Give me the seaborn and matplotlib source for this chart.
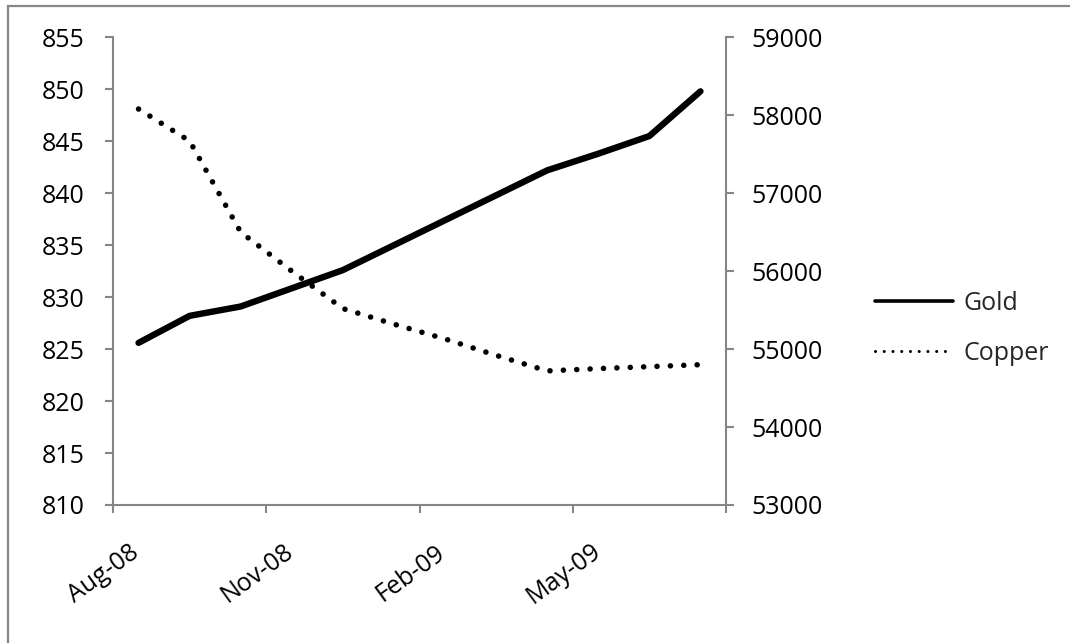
import numpy as np
import pandas as pd
import matplotlib
matplotlib.use("Agg")
import matplotlib.pyplot as plt
from matplotlib.lines import Line2D
from matplotlib.patches import Rectangle
from matplotlib.transforms import ScaledTranslation
import seaborn as sns

# Monthly averages
months = ["Aug-08", "Sep-08", "Oct-08", "Nov-08", "Dec-08", "Jan-09",
          "Feb-09", "Mar-09", "Apr-09", "May-09", "Jun-09", "Jul-09"]
gold = [825.6, 828.2, 829.1, 830.85, 832.6, 835.0,
        837.4, 839.8, 842.2, 843.8, 845.5, 849.8]
copper = [58080, 57670, 56500, 56000, 55520, 55320,
          55130, 54920, 54720, 54750, 54775, 54800]

x_tick_labels = ["Aug-08", "Nov-08", "Feb-09", "May-09", ""]
gold_ticks = [810, 815, 820, 825, 830, 835, 840, 845, 850, 855]
copper_ticks = [53000, 54000, 55000, 56000, 57000, 58000, 59000]

sns.set_theme(style="white")
plt.rcParams["font.family"] = ["Open Sans", "DejaVu Sans"]

AXIS_GREY = "#868686"
FS = 18

df = pd.DataFrame({"month": months, "Gold": gold, "Copper": copper})
# each month occupies one slot; points sit in the middle of their slot
df["slot"] = np.arange(len(df)) + 0.5

W, H = 1070, 643
fig = plt.figure(figsize=(W / 100, H / 100), dpi=100)
ax = fig.add_axes([113 / W, 1 - 505 / H, 613 / W, (505 - 37.3) / H])
ax2 = ax.twinx()

sns.lineplot(data=df, x="slot", y="Gold", ax=ax, color="black",
             linewidth=4.6, solid_capstyle="round", legend=False)
sns.lineplot(data=df, x="slot", y="Copper", ax=ax2, color="black",
             linewidth=4.0, linestyle=(0, (0.01, 2.4)),
             dash_capstyle="round", legend=False)

ax.set_xlim(0, 12)
ax.set_ylim(810, 855)
ax2.set_ylim(53000, 59000)
ax.set_xticks([0, 3, 6, 9, 12])
ax.set_xticklabels(x_tick_labels)
ax.set_yticks(gold_ticks)
ax.set_yticklabels([str(v) for v in gold_ticks])
ax2.set_yticks(copper_ticks)
ax2.set_yticklabels([str(v) for v in copper_ticks])
ax.set_xlabel("")
ax.set_ylabel("")
ax2.set_ylabel("")

for a in (ax, ax2):
    a.set_facecolor("none")
    a.grid(False)
    a.spines["top"].set_visible(False)
    for side in ("left", "right", "bottom"):
        a.spines[side].set_color(AXIS_GREY)
        a.spines[side].set_linewidth(1.5)
ax.spines["right"].set_visible(False)
ax2.spines["left"].set_visible(False)
ax2.spines["bottom"].set_visible(False)

ax.tick_params(axis="y", which="major", direction="out", length=5.5, width=1.5,
               color=AXIS_GREY, labelsize=FS, pad=15, left=True, labelcolor="black")
ax2.tick_params(axis="y", which="major", direction="out", length=5.5, width=1.5,
                color=AXIS_GREY, labelsize=FS, pad=13, right=True, labelcolor="black")
ax.tick_params(axis="x", which="major", direction="out", length=5.5, width=1.5,
               color=AXIS_GREY, labelsize=FS, pad=44, bottom=True, labelcolor="black")

shift = ScaledTranslation(-9 / 100, 0, fig.dpi_scale_trans)
for lbl in ax.get_xticklabels():
    lbl.set_rotation(36)
    lbl.set_ha("center")
    lbl.set_va("center")
    lbl.set_rotation_mode("default")
    lbl.set_transform(lbl.get_transform() + shift)

handles = [
    Line2D([], [], color="black", linewidth=2.6, solid_capstyle="round"),
    Line2D([], [], color="black", linewidth=2.2, linestyle=(0, (0.01, 2.85)),
           dash_capstyle="round"),
]
fig.legend(handles, ["Gold", "Copper"], loc="center left",
           bbox_to_anchor=(875 / W, 1 - 328.5 / H), bbox_transform=fig.transFigure,
           frameon=False, fontsize=FS, handlelength=3.1, handletextpad=0.45,
           labelspacing=1.0, borderpad=0, borderaxespad=0)

# chart area outline
fig.patches.append(Rectangle((8 / W, -0.05), 1.2, 1 - 6 / H + 0.05,
                             transform=fig.transFigure, fill=False,
                             edgecolor="#878787", linewidth=1.6))

fig.savefig("out.png", dpi=100)
